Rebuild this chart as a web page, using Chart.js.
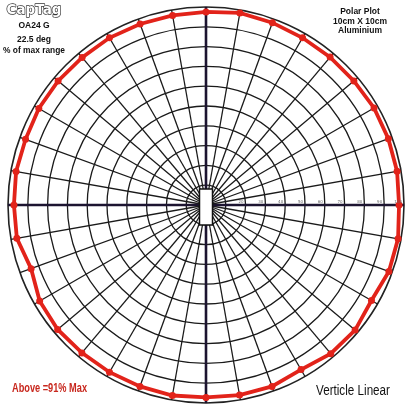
<!DOCTYPE html>
<html>
<head>
<meta charset="utf-8">
<script src="https://cdn.jsdelivr.net/npm/chart.js@4/dist/chart.umd.min.js"></script>
<style>
	html, body { margin: 0; padding: 0; background: #fff; }
	canvas { display: block; }
</style>
</head>
<body>
<canvas id="chart" width="412" height="410" style="width:412px;height:410px"></canvas>
<script>
'use strict';

// bearing of each reading, clockwise from straight up
const angles = [
	0, 10, 20, 30, 40, 50, 60, 70, 80,
	90, 100, 110, 120, 130, 140, 150, 160, 170,
	180, 190, 200, 210, 220, 230, 240, 250, 260,
	270, 280, 290, 300, 310, 320, 330, 340, 350
];

// % of max range read at each bearing
const readings = [
	97.5, 98.5, 98, 97.5, 97.5, 97.5, 98, 98, 98,
	97.5, 98.5, 98.3, 96.5, 98.3, 98, 96, 97.5, 97.5,
	97.2, 97.7, 97.5, 97.5, 97.5, 97.8, 97, 94, 97,
	97, 97.4, 97, 97.5, 97.5, 97.3, 97.5, 97.3, 97.2
];

// labels written along the right axis, one per ring
const ringLabels = [20, 30, 40, 50, 60, 70, 80, 90, 100];

/**
 * Draws the captions, ring labels and the antenna block in the middle
 */
const decorations = {
	id: 'decorations',

	afterDatasetsDraw(chart) {
		const
			{ctx} = chart,
			scale = chart.scales.r,
			cx = scale.xCenter,
			cy = scale.yCenter;

		ctx.save();

		// antenna block at the centre
		ctx.fillStyle = '#fff';
		ctx.strokeStyle = '#111';
		ctx.lineWidth = 1.5;
		ctx.fillRect(cx - 6.5, cy - 16, 13, 36);
		ctx.strokeRect(cx - 6.5, cy - 16, 13, 36);

		// tiny ring values
		ctx.font = '4px "DejaVu Sans"';
		ctx.fillStyle = '#666';
		ctx.textAlign = 'right';
		ctx.textBaseline = 'bottom';
		ringLabels.forEach((v) => {
			const p = scale.getPointPositionForValue(angles.indexOf(90), v);
			ctx.fillText(String(v), p.x - 2, p.y - 1.5);
		});

		// logo, outlined letters
		ctx.textAlign = 'center';
		ctx.textBaseline = 'middle';
		ctx.font = 'bold 13.5px "DejaVu Sans"';
		ctx.lineJoin = 'round';
		ctx.lineWidth = 1.4;
		ctx.strokeStyle = '#333';
		ctx.fillStyle = '#fff';
		ctx.strokeText('CapTag', 34, 10);
		ctx.fillText('CapTag', 34, 10);

		ctx.fillStyle = '#111';
		ctx.font = 'bold 8.5px "Liberation Sans"';
		ctx.fillText('OA24 G', 34, 26);
		ctx.fillText('22.5 deg', 34, 40);
		ctx.fillText('% of max range', 34, 51, 62);

		ctx.font = 'bold 8.5px "Liberation Sans"';
		ctx.fillText('Polar Plot', 360, 12);
		ctx.fillText('10cm X 10cm', 360, 21.5);
		ctx.fillText('Aluminium', 360, 31);

		ctx.textAlign = 'left';
		ctx.fillStyle = '#c8281e';
		ctx.font = 'bold 12px "Liberation Sans"';
		ctx.fillText('Above =91% Max', 12, 389, 75);

		ctx.fillStyle = '#111';
		ctx.font = '14px "Liberation Sans"';
		ctx.fillText('Verticle Linear', 316, 391, 74);

		ctx.restore();
	}
};

new Chart(document.getElementById('chart'), {
	type: 'radar',
	data: {
		labels: angles.map((a) => a + '°'),
		datasets: [{
			data: readings,
			borderColor: '#e2231a',
			backgroundColor: '#e2231a',
			borderWidth: 3.8,
			pointRadius: 3.5,
			pointBorderWidth: 0,
			pointBackgroundColor: '#e2231a',
			fill: false,
			tension: 0
		}]
	},
	options: {
		responsive: false,
		animation: false,
		layout: {padding: {left: 8, right: 8, top: 7, bottom: 7}},
		plugins: {
			legend: {display: false},
			tooltip: {enabled: false}
		},
		scales: {
			r: {
				min: 0,
				max: 100,
				ticks: {display: false, stepSize: 10},
				pointLabels: {display: false},
				grid: {
					circular: true,
					color: (c) => c.index === 10 ? '#222' : '#1a1a1a',
					lineWidth: (c) => c.index === 10 ? 1.6 : 1.3
				},
				angleLines: {
					color: (c) => c.index % 9 === 0 ? '#1c1430' : '#1a1a1a',
					lineWidth: (c) => c.index % 9 === 0 ? 2.6 : 1.3
				}
			}
		}
	},
	plugins: [decorations]
});
</script>
</body>
</html>
